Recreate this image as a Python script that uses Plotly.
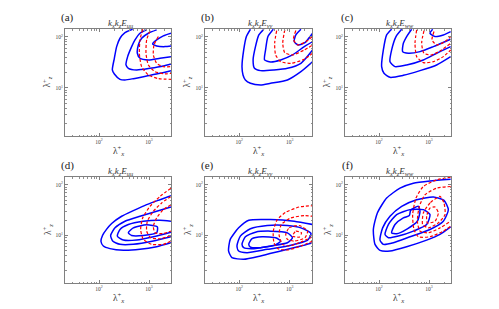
import plotly.graph_objects as go

# Contour lines, as (log10 lambda_x+, log10 lambda_z+) pairs
# Panel (a) k_x k_z E_uu
a_blue1 = [(2.673,2.15),(2.52,2.085),(2.42,1.974),(2.353,1.81),(2.307,1.582),(2.267,1.353),(2.307,1.275),(2.42,1.17),(2.52,1.157),(2.687,1.183),(2.953,1.235),(3.22,1.288),(3.44,1.34)]
a_blue2 = [(2.953,2.137),(2.82,2.072),(2.72,1.941),(2.653,1.81),(2.573,1.614),(2.54,1.451),(2.587,1.386),(2.753,1.353),(3.02,1.386),(3.287,1.431),(3.44,1.471)]
a_blue3 = [(3.153,2.137),(2.987,2.072),(2.853,1.974),(2.787,1.843),(2.767,1.68),(2.82,1.582),(2.987,1.549),(3.22,1.582),(3.44,1.614)]
a_blue4 = [(3.44,2.072),(3.287,2.02),(3.153,1.941),(3.073,1.863),(3.153,1.824),(3.32,1.81),(3.44,1.824)]
a_red1 = [(2.873,2.15),(2.82,1.941),(2.807,1.68),(2.853,1.418),(2.987,1.255),(3.187,1.183),(3.44,1.17)]
a_red2 = [(3.02,2.124),(2.953,1.941),(2.94,1.68),(2.987,1.451),(3.12,1.32),(3.32,1.275),(3.44,1.288)]
a_red3 = [(3.187,2.007),(3.1,1.843),(3.087,1.647),(3.153,1.484),(3.287,1.418),(3.44,1.418)]

# Panel (b) k_x k_z E_vv
b_blue1 = [(2.22,2.15),(2.14,2.007),(2.087,1.745),(2.053,1.418),(2.073,1.255),(2.12,1.157),(2.22,1.092),(2.42,1.059),(2.62,1.092),(2.953,1.157),(3.22,1.32),(3.453,1.516)]
b_blue2 = [(2.487,2.15),(2.387,2.039),(2.32,1.81),(2.273,1.549),(2.3,1.386),(2.42,1.34),(2.687,1.353),(2.953,1.386),(3.22,1.484),(3.453,1.745)]
b_blue3 = [(2.673,2.15),(2.567,2.007),(2.52,1.745),(2.5,1.549),(2.62,1.51),(2.82,1.549),(3.053,1.647),(3.287,1.81),(3.453,1.908)]
b_blue4 = [(3.22,2.15),(3.12,2.039),(3.087,1.908),(3.167,1.843),(3.3,1.889),(3.453,2.072)]
b_red1 = [(2.74,2.124),(2.7,1.876),(2.72,1.647),(2.82,1.516),(3.02,1.484),(3.287,1.562),(3.453,1.68)]
b_red2 = [(2.9,2.137),(2.86,1.876),(2.9,1.693),(3.053,1.647),(3.287,1.745),(3.453,1.843)]
b_red3 = [(3.12,2.124),(3.073,1.954),(3.153,1.843),(3.32,1.908),(3.453,2.007)]

# Panel (c) k_x k_z E_ww
c_blue1 = [(2.253,2.15),(2.153,2.039),(2.087,1.745),(2.053,1.418),(2.1,1.288),(2.22,1.209),(2.487,1.248),(2.82,1.34),(3.153,1.451),(3.433,1.614)]
c_blue2 = [(2.453,2.15),(2.34,2.007),(2.253,1.745),(2.22,1.516),(2.32,1.418),(2.553,1.451),(2.887,1.549),(3.153,1.68),(3.433,1.81)]
c_blue3 = [(2.653,2.15),(2.553,2.007),(2.487,1.876),(2.473,1.712),(2.587,1.68),(2.82,1.712),(3.087,1.81),(3.433,1.954)]
c_blue4 = [(3.073,2.15),(3.02,2.072),(3.12,2.007),(3.287,2.039),(3.433,2.105)]
c_red1 = [(2.753,2.137),(2.72,1.876),(2.753,1.614),(2.887,1.497),(3.087,1.516),(3.287,1.614),(3.433,1.745)]
c_red2 = [(2.9,2.124),(2.853,1.876),(2.9,1.68),(3.053,1.647),(3.253,1.745),(3.433,1.876)]
c_red3 = [(3.1,2.105),(3.06,1.941),(3.153,1.843),(3.32,1.908),(3.433,2.007)]

# Panel (d) k_x k_z E_uu
d_blue1 = [(3.44,0.856),(3.153,0.778),(2.82,0.725),(2.487,0.706),(2.22,0.739),(2.087,0.791),(2.04,0.88),(2.07,1.0),(2.15,1.12),(2.253,1.235),(2.453,1.379),(2.687,1.49),(2.953,1.608),(3.22,1.706),(3.44,1.784)]
d_blue2 = [(3.44,0.974),(3.087,0.889),(2.687,0.824),(2.42,0.824),(2.273,0.889),(2.233,1.0),(2.32,1.15),(2.52,1.281),(2.82,1.379),(3.153,1.477),(3.44,1.562)]
d_blue3 = [(3.44,1.065),(3.087,0.974),(2.753,0.908),(2.487,0.908),(2.367,0.987),(2.42,1.118),(2.587,1.216),(2.887,1.281),(3.22,1.301),(3.44,1.281)]
d_blue4 = [(2.587,1.052),(2.687,1.15),(2.953,1.209),(3.167,1.17),(3.153,1.052),(2.887,1.0),(2.653,1.0),(2.587,1.052)]
d_red1 = [(3.44,1.935),(3.22,1.771),(3.02,1.575),(2.873,1.346),(2.833,1.118),(2.887,0.922),(3.053,0.824),(3.287,0.824),(3.44,0.889)]
d_red2 = [(3.44,1.771),(3.253,1.641),(3.087,1.477),(2.967,1.281),(2.953,1.085),(3.033,0.954),(3.22,0.935),(3.44,1.0)]
d_red3 = [(3.44,1.608),(3.287,1.51),(3.153,1.346),(3.087,1.183),(3.12,1.052),(3.287,1.039),(3.44,1.085)]

# Panel (e) k_x k_z E_vv
e_blue1 = [(3.453,0.856),(3.22,0.791),(2.82,0.693),(2.42,0.595),(2.087,0.529),(1.853,0.562),(1.787,0.693),(1.82,0.922),(1.987,1.15),(2.187,1.301),(2.62,1.314),(3.087,1.281),(3.453,1.216)]
e_blue2 = [(1.953,0.791),(2.02,0.987),(2.22,1.131),(2.553,1.196),(2.953,1.196),(3.22,1.15),(3.42,1.039),(3.353,0.908),(2.953,0.791),(2.553,0.725),(2.153,0.66),(1.987,0.693),(1.953,0.791)]
e_blue3 = [(2.053,0.824),(2.12,0.974),(2.32,1.065),(2.62,1.085),(2.953,1.052),(3.053,0.954),(2.953,0.856),(2.62,0.791),(2.287,0.739),(2.087,0.758),(2.053,0.824)]
e_blue4 = [(2.187,0.824),(2.253,0.935),(2.453,0.974),(2.72,0.954),(2.82,0.889),(2.687,0.804),(2.42,0.758),(2.22,0.771),(2.187,0.824)]
e_red1 = [(3.453,0.889),(3.22,0.791),(2.953,0.712),(2.767,0.739),(2.687,0.856),(2.673,1.085),(2.753,1.314),(2.92,1.458),(3.187,1.562),(3.453,1.588)]
e_red2 = [(3.453,0.974),(3.22,0.869),(2.987,0.791),(2.853,0.824),(2.787,1.02),(2.833,1.216),(3.02,1.346),(3.287,1.392),(3.453,1.379)]
e_red3 = [(2.92,1.02),(2.987,1.15),(3.187,1.196),(3.353,1.085),(3.3,0.954),(3.087,0.889),(2.953,0.922),(2.92,1.02)]
e_red4 = [(3.053,0.987),(3.12,1.085),(3.233,1.052),(3.187,0.967),(3.053,0.987)]

# Panel (f) k_x k_z E_ww
f_blue1 = [(3.433,2.111),(3.02,2.078),(2.687,2.033),(2.42,1.935),(2.153,1.739),(1.967,1.444),(1.887,1.118),(1.92,0.824),(2.02,0.706),(2.22,0.693),(2.553,0.778),(2.953,0.908),(3.22,1.02),(3.433,1.17)]
f_blue2 = [(2.02,0.908),(2.073,1.15),(2.22,1.379),(2.453,1.575),(2.753,1.706),(3.087,1.758),(3.3,1.693),(3.387,1.51),(3.287,1.281),(3.02,1.118),(2.62,0.974),(2.287,0.856),(2.087,0.824),(2.02,0.908)]
f_blue3 = [(2.12,1.02),(2.187,1.216),(2.353,1.412),(2.62,1.51),(2.887,1.51),(3.02,1.412),(2.953,1.216),(2.687,1.085),(2.387,0.987),(2.187,0.954),(2.12,1.02)]
f_blue4 = [(2.253,1.052),(2.32,1.216),(2.487,1.346),(2.607,1.392),(2.633,1.497),(2.787,1.575),(2.82,1.477),(2.767,1.281),(2.567,1.131),(2.353,1.033),(2.253,1.052)]
f_red1 = [(3.433,2.15),(3.153,2.098),(2.887,1.967),(2.74,1.739),(2.673,1.412),(2.7,1.118),(2.787,0.974),(3.02,0.974),(3.287,1.085),(3.433,1.183)]
f_red2 = [(3.433,1.967),(3.153,1.935),(2.92,1.804),(2.807,1.575),(2.767,1.281),(2.82,1.085),(2.987,1.052),(3.22,1.15),(3.433,1.281)]
f_red3 = [(3.22,1.771),(3.02,1.641),(2.887,1.444),(2.873,1.216),(2.987,1.15),(3.187,1.248),(3.32,1.412),(3.3,1.641),(3.22,1.771)]
f_red4 = [(3.02,1.542),(2.953,1.379),(2.967,1.248),(3.12,1.281),(3.187,1.444),(3.12,1.562),(3.02,1.542)]

panel_letters = ["(a)", "(b)", "(c)", "(d)", "(e)", "(f)"]
panel_comps = ["uu", "vv", "ww", "uu", "vv", "ww"]
x_tick_vals = [100, 1000]
x_tick_text = ["10<sup>2</sup>", "10<sup>3</sup>"]
y_tick_vals = [10, 100]
y_tick_text = ["10<sup>1</sup>", "10<sup>2</sup>"]

blues = [
    [a_blue1, a_blue2, a_blue3, a_blue4],
    [b_blue1, b_blue2, b_blue3, b_blue4],
    [c_blue1, c_blue2, c_blue3, c_blue4],
    [d_blue1, d_blue2, d_blue3, d_blue4],
    [e_blue1, e_blue2, e_blue3, e_blue4],
    [f_blue1, f_blue2, f_blue3, f_blue4],
]
reds = [
    [a_red1, a_red2, a_red3],
    [b_red1, b_red2, b_red3],
    [c_red1, c_red2, c_red3],
    [d_red1, d_red2, d_red3],
    [e_red1, e_red2, e_red3, e_red4],
    [f_red1, f_red2, f_red3, f_red4],
]

W, H = 499, 309
col_px = [(65, 171), (205, 312), (345, 451)]
row_px = [(29, 136), (177, 283)]

minor_vals = [m * 10 ** e for e in range(0, 4) for m in range(2, 10)]

fig = go.Figure()
serif = "Liberation Serif, DejaVu Serif, serif"
axis_common = dict(
    type="log", showgrid=False, zeroline=False, showline=True, linecolor="#808080",
    linewidth=1, mirror="ticks", ticks="inside", ticklen=3, tickcolor="#808080", tickwidth=0.6,
    tickfont=dict(size=5.5, family=serif, color="#444444"),
    minor=dict(ticks="inside", ticklen=1.5, tickcolor="#909090", tickwidth=0.5, showgrid=False,
               tickmode="array", tickvals=minor_vals),
)
layout = dict()
for i in range(6):
    r, c = divmod(i, 3)
    xa = "xaxis" if i == 0 else f"xaxis{i+1}"
    ya = "yaxis" if i == 0 else f"yaxis{i+1}"
    xr = "x" if i == 0 else f"x{i+1}"
    yr = "y" if i == 0 else f"y{i+1}"
    x0, x1 = col_px[c]
    t0, t1 = row_px[r]
    layout[xa] = dict(axis_common, domain=[x0 / W, x1 / W], range=[1.32, 3.44], anchor=yr,
                      tickmode="array", tickvals=x_tick_vals, ticktext=x_tick_text)
    layout[ya] = dict(axis_common, domain=[1 - t1 / H, 1 - t0 / H], range=[0.06, 2.155], anchor=xr,
                      tickmode="array", tickvals=y_tick_vals, ticktext=y_tick_text)
    for pts in blues[i]:
        fig.add_trace(go.Scatter(x=[10 ** p[0] for p in pts], y=[10 ** p[1] for p in pts],
                                 mode="lines", line=dict(color="#0000ff", width=1.5, shape="spline", smoothing=0.6),
                                 xaxis=xr, yaxis=yr, showlegend=False, hoverinfo="skip"))
    for pts in reds[i]:
        fig.add_trace(go.Scatter(x=[10 ** p[0] for p in pts], y=[10 ** p[1] for p in pts],
                                 mode="lines", line=dict(color="#ff0000", width=1.2, dash="3px,2px", shape="spline", smoothing=0.6),
                                 xaxis=xr, yaxis=yr, showlegend=False, hoverinfo="skip"))

annotations = []
for i in range(6):
    r, c = divmod(i, 3)
    x0, x1 = col_px[c]
    t0, t1 = row_px[r]
    cx = (x0 + x1) / 2
    cy = (t0 + t1) / 2
    comp = panel_comps[i]
    annotations.append(dict(x=(x0 + 2) / W, y=1 - (t0 - 12) / H, xref="paper", yref="paper",
                            text=panel_letters[i], showarrow=False, xanchor="center", yanchor="middle",
                            font=dict(size=11, family=serif, color="#222222")))
    annotations.append(dict(x=(cx + 2) / W, y=1 - (t0 - 6) / H, xref="paper", yref="paper",
                            text=f"<i>k</i><sub><i>x</i></sub><i>k</i><sub><i>z</i></sub><i>E</i><sub><i>{comp}</i></sub>",
                            showarrow=False, xanchor="center", yanchor="middle",
                            font=dict(size=9, family=serif, color="#333333")))
    annotations.append(dict(x=(cx) / W, y=1 - (t1 + 14) / H, xref="paper", yref="paper",
                            text="λ<sup>+</sup><sub><i>x</i></sub>", showarrow=False,
                            xanchor="center", yanchor="middle",
                            font=dict(size=9.5, family=serif, color="#333333")))
    annotations.append(dict(x=(x0 - 18) / W, y=1 - cy / H, xref="paper", yref="paper",
                            text="λ<sup>+</sup><sub><i>z</i></sub>", showarrow=False, textangle=-90,
                            xanchor="center", yanchor="middle",
                            font=dict(size=9.5, family=serif, color="#333333")))

fig.update_layout(**layout)
fig.update_layout(width=W, height=H, margin=dict(l=0, r=0, t=0, b=0),
                  paper_bgcolor="white", plot_bgcolor="white", annotations=annotations)
fig.write_html("out.html", config={"displayModeBar": False},
               post_script="document.body.style.margin='0px';document.body.style.padding='0px';")
